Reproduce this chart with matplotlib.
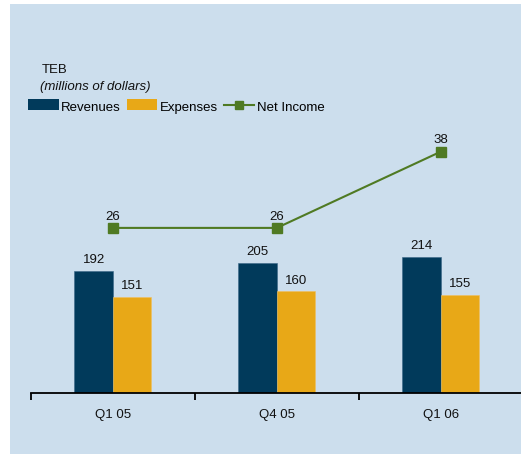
import numpy as np
import matplotlib.pyplot as plt
from matplotlib.patches import Rectangle
from matplotlib.lines import Line2D

quarters = ["Q1 05", "Q4 05", "Q1 06"]
revenues = [192, 205, 214]
expenses = [151, 160, 155]
net_income = [26, 26, 38]

NAVY = "#013a5b"
GOLD = "#e8a817"
GREEN = "#4f7a23"
BG = "#ccdeed"

plt.rcParams['font.family'] = ['Liberation Sans', 'DejaVu Sans']

fig = plt.figure(figsize=(5.21, 4.56), dpi=100)
fig.patch.set_facecolor("white")
# light blue panel behind everything
fig.patches.append(Rectangle((10 / 521, 1 / 456), 1.0, 450 / 456,
                             transform=fig.transFigure, facecolor=BG,
                             edgecolor="none", zorder=-10))

ax = fig.add_axes([31 / 521, 62 / 456, 490 / 521, 254 / 456])
ax.set_facecolor("none")
ax.set_xlim(-0.5, 2.49)
ax.set_ylim(0, 400)

x = np.arange(len(quarters))
w = 0.235
ax.bar(x - w / 2, revenues, w, color=NAVY, edgecolor="#3a6688", linewidth=0.4)
ax.bar(x + w / 2, expenses, w, color=GOLD, edgecolor="#f0c060", linewidth=0.4)
for i in range(len(quarters)):
    ax.text(x[i] - w / 2, revenues[i] + 9, str(revenues[i]), ha="center",
            va="bottom", fontsize=9.5, color="#111111")
    ax.text(x[i] + w / 2, expenses[i] + 9, str(expenses[i]), ha="center",
            va="bottom", fontsize=9.5, color="#111111")

# net income on its own scale (one tenth of the bars)
ax2 = ax.twinx()
ax2.set_ylim(0, 40)
ax2.axis("off")
ax2.plot(x, net_income, color=GREEN, linewidth=1.5, marker="s",
         markersize=6.5, markerfacecolor=GREEN, markeredgecolor=GREEN)
for i in range(len(quarters)):
    ax2.text(x[i], net_income[i] + 1.0, str(net_income[i]), ha="center",
             va="bottom", fontsize=9.5, color="#111111")

for s in ["top", "right", "left"]:
    ax.spines[s].set_visible(False)
ax.spines["bottom"].set_linewidth(1.3)
ax.set_yticks([])
ax.set_xticks([-0.5, 0.5, 1.5])
ax.set_xticklabels([])
ax.tick_params(axis="x", length=5, width=1.3, direction="out")
ax.set_xticks(x, minor=True)
ax.set_xticklabels(quarters, minor=True, fontsize=9.5, color="#111111")
ax.tick_params(axis="x", which="minor", length=0, pad=11)

fig.text(42 / 521, 1 - 70 / 456, "TEB", fontsize=9.5, va="center", color="#111111")
fig.text(40 / 521, 1 - 87 / 456, "(millions of dollars)", fontsize=9.5,
         style="italic", va="center", color="#111111")

handles = [
    Rectangle((0, 0), 1, 1, facecolor=NAVY),
    Rectangle((0, 0), 1, 1, facecolor=GOLD),
    Line2D([], [], color=GREEN, linewidth=1.5, marker="s", markersize=6),
]
fig.legend(handles, ["Revenues", "Expenses", "Net Income"], loc="center left",
           bbox_to_anchor=(19 / 521, 1 - 107 / 456), ncol=3, frameon=False,
           fontsize=9.5, handlelength=2.3, handleheight=0.9, handletextpad=0.2,
           columnspacing=0.45, borderpad=0.2)

fig.savefig("out.png", dpi=100, facecolor=fig.get_facecolor())
